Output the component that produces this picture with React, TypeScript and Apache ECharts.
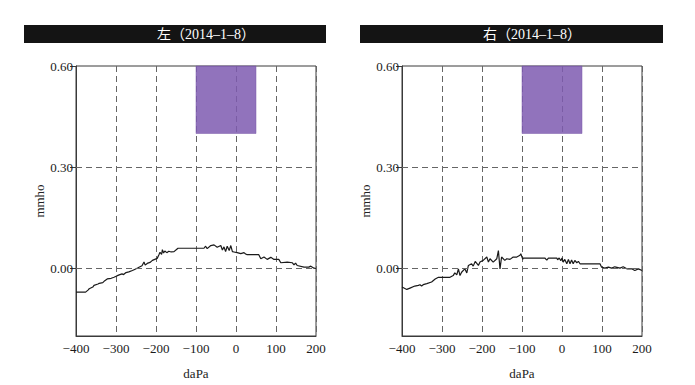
import React, { useEffect, useRef } from "react";
import * as echarts from "echarts";

const titles = ["左（2014–1–8）", "右（2014–1–8）"];
const xTicks = [-400, -300, -200, -100, 0, 100, 200];
const yTickValues = [0, 0.3, 0.6];
const gridLineValues = [0, 0.3];
const boxRange = [[-100, 0.4], [50, 0.6]];

const leftX = [-400, -376, -370, -367, -358, -355, -345, -342, -333, -328, -322, -312, -305, -298, -292, -285, -281, -275, -268, -259, -252, -245, -240, -235, -230, -227, -222, -215, -209, -203, -197, -193, -190, -186, -184, -181, -178, -173, -168, -162, -155, -148, -145, -80, -76, -72, -63, -55, -47, -38, -34, -30, -26, -22, -17, -13, -9, -5, 3, 12, 20, 24, 28, 57, 62, 70, 78, 87, 95, 107, 112, 128, 141, 145, 149, 153, 170, 182, 187, 195, 200];
const leftY = [-0.07, -0.07, -0.064, -0.06, -0.055, -0.05, -0.046, -0.044, -0.042, -0.036, -0.031, -0.029, -0.026, -0.022, -0.019, -0.016, -0.018, -0.012, -0.01, -0.006, -0.002, 0.002, 0.005, 0.008, 0.019, 0.01, 0.015, 0.018, 0.024, 0.027, 0.03, 0.04, 0.048, 0.042, 0.056, 0.046, 0.052, 0.047, 0.051, 0.049, 0.05, 0.057, 0.06, 0.06, 0.066, 0.059, 0.068, 0.07, 0.063, 0.068, 0.055, 0.064, 0.05, 0.066, 0.053, 0.068, 0.05, 0.049, 0.047, 0.044, 0.047, 0.043, 0.041, 0.041, 0.029, 0.034, 0.027, 0.033, 0.027, 0.027, 0.017, 0.019, 0.017, 0.011, 0.016, 0.009, 0.004, 0.004, 0.007, 0.001, 0.0];

const rightX = [-400, -388, -380, -368, -359, -355, -351, -347, -338, -326, -317, -309, -280, -272, -268, -263, -259, -255, -251, -243, -238, -234, -226, -222, -217, -209, -205, -197, -188, -184, -180, -172, -163, -159, -155, -151, -143, -138, -130, -122, -113, -105, -103, -98, -97, -43, -38, -34, -13, -11, -7, -3, 0, 3, 7, 12, 16, 20, 24, 28, 32, 37, 41, 45, 95, 99, 107, 116, 124, 132, 145, 153, 162, 174, 182, 191, 200];
const rightY = [-0.055, -0.062, -0.058, -0.052, -0.05, -0.048, -0.052, -0.048, -0.045, -0.04, -0.031, -0.026, -0.026, -0.021, -0.013, -0.019, -0.001, -0.021, -0.011, -0.001, -0.013, 0.009, 0.014, 0.007, 0.021, 0.009, 0.019, 0.024, 0.034, 0.019, 0.029, 0.019, 0.029, 0.053, -0.001, 0.034, 0.024, 0.029, 0.027, 0.034, 0.034, 0.039, 0.044, 0.027, 0.031, 0.031, 0.025, 0.031, 0.031, 0.026, 0.031, 0.023, 0.031, 0.019, 0.027, 0.014, 0.027, 0.014, 0.025, 0.014, 0.024, 0.017, 0.021, 0.014, 0.014, 0.004, 0.001, 0.004, 0.001, 0.005, 0.001, 0.005, -0.001, -0.001, -0.006, -0.001, -0.006];

const SERIF = "'Liberation Serif', 'DejaVu Serif', 'Noto Sans CJK SC', serif";

export default function App() {
  const ref = useRef<HTMLDivElement>(null);
  useEffect(() => {
    if (!ref.current) return;
    const chart = echarts.init(ref.current, null, { renderer: "svg" });
    const grids = [
      { left: 76, top: 66, width: 240, height: 270 },
      { left: 402, top: 66, width: 240, height: 270 },
    ];
    const dataSets = [
      leftX.map((x, i) => [x, leftY[i]]),
      rightX.map((x, i) => [x, rightY[i]]),
    ];
    const bars = [
      { x: 24, w: 302, tx: 206 },
      { x: 360, w: 303, tx: 532 },
    ];
    const option: any = {
      animation: false,
      backgroundColor: "#ffffff",
      grid: grids.map((g) => ({
        ...g,
        show: true,
        borderColor: "#3a3a3a",
        borderWidth: 1,
        backgroundColor: "transparent",
      })),
      xAxis: grids.map((_, i) => ({
        type: "value",
        gridIndex: i,
        min: xTicks[0],
        max: xTicks[xTicks.length - 1],
        interval: 100,
        name: "daPa",
        nameLocation: "middle",
        nameGap: 31,
        nameTextStyle: { fontFamily: SERIF, fontSize: 13, color: "#222" },
        axisLine: { show: true, onZero: false, lineStyle: { color: "#3a3a3a" } },
        axisTick: { show: false },
        axisLabel: {
          margin: 6,
          fontFamily: SERIF,
          fontSize: 13,
          color: "#1a1a1a",
          formatter: (v: number) => String(v).replace("-", "−"),
        },
        splitLine: {
          show: true,
          lineStyle: { color: "#666", type: [6, 4], width: 1 },
        },
      })),
      yAxis: grids.map((_, i) => ({
        type: "value",
        gridIndex: i,
        min: -0.2,
        max: 0.6,
        interval: 0.1,
        name: "mmho",
        nameLocation: "middle",
        nameGap: 30,
        nameRotate: 90,
        nameTextStyle: { fontFamily: SERIF, fontSize: 13, color: "#222" },
        axisLine: { show: true, onZero: false, lineStyle: { color: "#3a3a3a" } },
        axisTick: {
          show: true,
          length: 6,
          customValues: yTickValues,
          lineStyle: { color: "#3a3a3a" },
        },
        axisLabel: {
          margin: 3,
          fontFamily: SERIF,
          fontSize: 13,
          color: "#1a1a1a",
          customValues: yTickValues,
          formatter: (v: number) => {
            const ok = yTickValues.some((t) => Math.abs(t - v) < 1e-6);
            return ok ? v.toFixed(2) : "";
          },
        },
        splitLine: { show: false },
      })),
      graphic: bars.flatMap((b, i) => [
        {
          type: "rect",
          shape: { x: b.x, y: 25, width: b.w, height: 18 },
          style: { fill: "#141414" },
          z: 10,
        },
        {
          type: "text",
          x: b.tx,
          y: 34,
          style: {
            text: titles[i],
            fill: "#ffffff",
            font: "14px " + SERIF,
            align: "center",
            verticalAlign: "middle",
          },
          z: 11,
        },
      ]),
      series: dataSets.map((d, i) => ({
        type: "line",
        xAxisIndex: i,
        yAxisIndex: i,
        data: d,
        symbol: "none",
        lineStyle: { color: "#1a1a1a", width: 1.2 },
        z: 3,
        markArea: {
          silent: true,
          itemStyle: { color: "rgba(126, 90, 176, 0.85)", borderColor: "#7a5aa8", borderWidth: 0.5 },
          data: [[{ xAxis: boxRange[0][0], yAxis: boxRange[0][1] }, { xAxis: boxRange[1][0], yAxis: boxRange[1][1] }]],
        },
        markLine: {
          silent: true,
          symbol: "none",
          label: { show: false },
          lineStyle: { color: "#666", type: [6, 4], width: 1 },
          data: gridLineValues.map((v) => ({ yAxis: v })),
        },
      })),
    };
    chart.setOption(option);
    return () => chart.dispose();
  }, []);
  return (
    <div
      ref={ref}
      style={{ position: "fixed", left: 0, top: 0, width: 695, height: 385, background: "#fff" }}
    />
  );
}
